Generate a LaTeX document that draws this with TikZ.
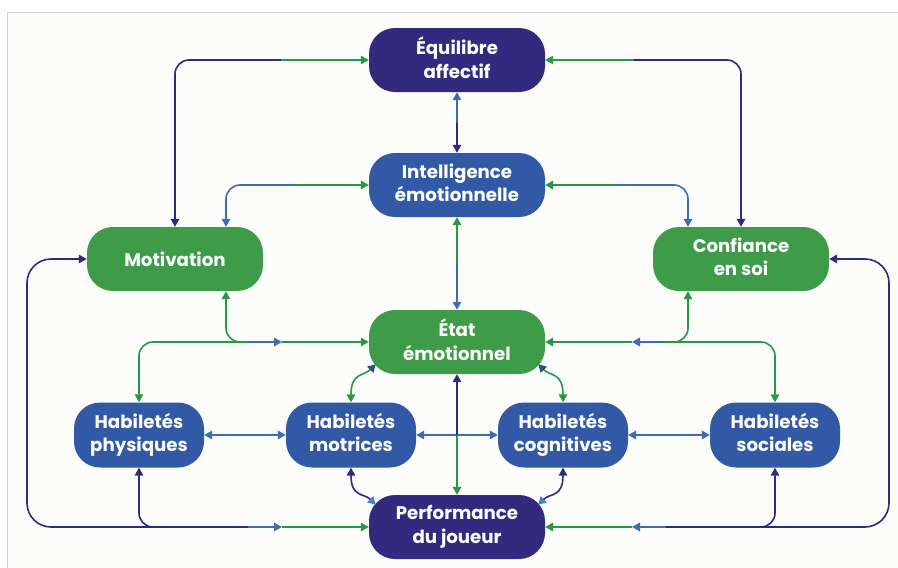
\documentclass[tikz,border=0pt]{standalone}
\usepackage{fontspec}
\setmainfont{Poppins}
\usetikzlibrary{arrows.meta,calc}
\definecolor{fnavy}{RGB}{49,42,126}
\definecolor{fblue}{RGB}{49,89,165}
\definecolor{fgreen}{RGB}{62,155,72}
\definecolor{lgreen}{RGB}{40,152,72}
\definecolor{lblue}{RGB}{60,108,180}
\definecolor{lnavy}{RGB}{45,42,130}
\definecolor{llight}{RGB}{70,130,200}
\definecolor{lslate}{RGB}{40,80,125}
\definecolor{bgc}{RGB}{252,252,250}
\definecolor{framec}{RGB}{212,212,212}
\tikzset{
  box/.style={rounded corners=26pt, text=white, font=\bfseries\fontsize{18.2}{23.5}\selectfont, align=center, inner sep=0pt, minimum height=64pt,
    execute at begin node={\rule{0pt}{20pt}}, execute at end node={\rule[-5pt]{0pt}{5pt}}},
  oneline/.style={execute at begin node={\rule[-6pt]{0pt}{20pt}}, execute at end node={}},
  bigbox/.style={box, minimum width=176pt},
  smallbox/.style={box, minimum width=130pt, minimum height=65pt},
  conn/.style={line width=1.6pt, rounded corners=14pt},
  loopconn/.style={line width=1.6pt, rounded corners=24pt},
  tipG/.tip={Triangle[length=8pt,width=8.5pt,color=lgreen]},
  tipB/.tip={Triangle[length=8pt,width=8.5pt,color=lblue]},
  tipN/.tip={Triangle[length=8pt,width=8.5pt,color=lnavy]},
  tipL/.tip={Triangle[length=8pt,width=8.5pt,color=llight]},
  tipS/.tip={Triangle[length=8pt,width=8.5pt,color=lslate]},
}
\begin{document}
\begin{tikzpicture}[x=1pt,y=-1pt]
\useasboundingbox (0,0) rectangle (898,568);
\fill[bgc] (7,12) rectangle (898,568);
\draw[framec, line width=1pt] (7,568) -- (7,12) -- (898,12);

% nodes
\node[bigbox, fill=fnavy] (eq) at (457,60) {Équilibre\\affectif};
\node[bigbox, fill=fblue] (int) at (457,185) {Intelligence\\émotionnelle};
\node[bigbox, oneline, fill=fgreen] (mot) at (175,259) {Motivation};
\node[bigbox, fill=fgreen] (conf) at (741,259) {Confiance\\en soi};
\node[bigbox, fill=fgreen] (etat) at (457,342) {État\\émotionnel};
\node[smallbox, fill=fblue] (hp) at (139,435) {Habiletés\\physiques};
\node[smallbox, fill=fblue] (hm) at (351,435) {Habiletés\\motrices};
\node[smallbox, fill=fblue] (hc) at (563,435) {Habiletés\\cognitives};
\node[smallbox, fill=fblue] (hs) at (775,435) {Habiletés\\sociales};
\node[bigbox, fill=fnavy] (perf) at (457,527) {Performance\\du joueur};

% helper coordinates
\coordinate (a1) at ($(mot.north|-eq.west)!0.55!(eq.west)$);
\coordinate (b0) at ([xshift=51pt]mot.north);
\coordinate (b1) at ($(b0|-int.west)!0.5!(int.west)$);
\coordinate (c1) at ($(eq.east)!0.45!(conf.north|-eq.east)$);
\coordinate (d0) at ([xshift=-53pt]conf.north);
\coordinate (d1) at ($(int.east)!0.5!(d0|-int.east)$);
\coordinate (e1) at ($(eq.south)!0.5!(int.north)$);
\coordinate (f1) at ($(int.south)!0.5!(etat.north)$);
\coordinate (g1) at (248,342);
\coordinate (g2) at (282,342);
\coordinate (h1) at (666,342);
\coordinate (h2) at (632,342);
\coordinate (L) at (27,400);
\coordinate (R) at (889,400);
\coordinate (k1) at (248,527);
\coordinate (k2) at (282,527);
\coordinate (m1) at (666,527);
\coordinate (m2) at (632,527);
\coordinate (v1) at ($(etat.south)!0.5!(perf.north)$);
\coordinate (eSW) at ([shift={(7,-10)}]etat.south west);
\coordinate (eSE) at ([shift={(-7,-10)}]etat.south east);
\coordinate (pNW) at ([shift={(7,10)}]perf.north west);
\coordinate (pNE) at ([shift={(-7,10)}]perf.north east);

% Motivation <-> Equilibre
\draw[conn,lnavy,tipN-] (mot.north) |- (a1);
\draw[conn,lgreen,-tipG] (a1) -- (eq.west);
% Motivation <-> Intelligence
\draw[conn,lblue,tipB-] (b0) |- (b1);
\draw[conn,lgreen,-tipG] (b1) -- (int.west);
% Equilibre <-> Confiance
\draw[conn,lgreen,tipG-] (eq.east) -- (c1);
\draw[conn,lnavy,-tipN] (c1) -| (conf.north);
% Intelligence <-> Confiance
\draw[conn,lgreen,tipG-] (int.east) -- (d1);
\draw[conn,lblue,-tipB] (d1) -| (d0);
% Equilibre <-> Intelligence
\draw[conn,lblue,tipB-] (eq.south) -- (e1);
\draw[conn,lnavy,-tipN] (e1) -- (int.north);
% Intelligence <-> Etat
\draw[conn,lgreen,tipG-] (int.south) -- (f1);
\draw[conn,lblue,-tipB] (f1) -- (etat.north);

% left upper hub
\draw[conn,lgreen,tipG-] (hp.north) |- (g1);
\draw[conn,lgreen,tipG-] ([xshift=51pt]mot.south) |- (g1);
\draw[conn,lblue,-tipB] (g1) -- (g2);
\draw[conn,lgreen,-tipG] (g2) -- (etat.west);
% right upper hub
\draw[conn,lgreen,tipG-] (hs.north) |- (h1);
\draw[conn,lgreen,tipG-] ([xshift=-53pt]conf.south) |- (h1);
\draw[conn,lblue,-tipB] (h1) -- (h2);
\draw[conn,lgreen,-tipG] (h2) -- (etat.east);

% left lower hub
\draw[loopconn,lnavy,tipN-] (mot.west) -| (L) |- (k1);
\draw[conn,lnavy,tipN-] (hp.south) |- (k1);
\draw[conn,lblue,-tipB] (k1) -- (k2);
\draw[conn,lgreen,-tipG] (k2) -- (perf.west);
% right lower hub
\draw[loopconn,lnavy,tipN-] (conf.east) -| (R) |- (m1);
\draw[conn,lnavy,tipN-] (hs.south) |- (m1);
\draw[conn,lblue,-tipB] (m1) -- (m2);
\draw[conn,lgreen,-tipG] (m2) -- (perf.east);

% skills row
\draw[conn,lblue,tipB-tipB] (hp.east) -- (hm.west);
\draw[conn,lblue,tipB-tipB] (hm.east) -- (hc.west);
\draw[conn,lblue,tipB-tipB] (hc.east) -- (hs.west);

% Etat <-> Performance
\draw[conn,lnavy,tipN-] (etat.south) -- (v1);
\draw[conn,lgreen,-tipG] (v1) -- (perf.north);

% curved links
\draw[conn,lgreen,tipG-tipS] (hm.north) .. controls +(0,-30) and +(-12,12) .. (eSW);
\draw[conn,lgreen,tipG-tipS] (hc.north) .. controls +(0,-30) and +(12,12) .. (eSE);
\draw[conn,lnavy,tipN-tipL] (hm.south) .. controls +(0,30) and +(-12,-12) .. (pNW);
\draw[conn,lnavy,tipN-tipL] (hc.south) .. controls +(0,30) and +(12,-12) .. (pNE);
\end{tikzpicture}
\end{document}
